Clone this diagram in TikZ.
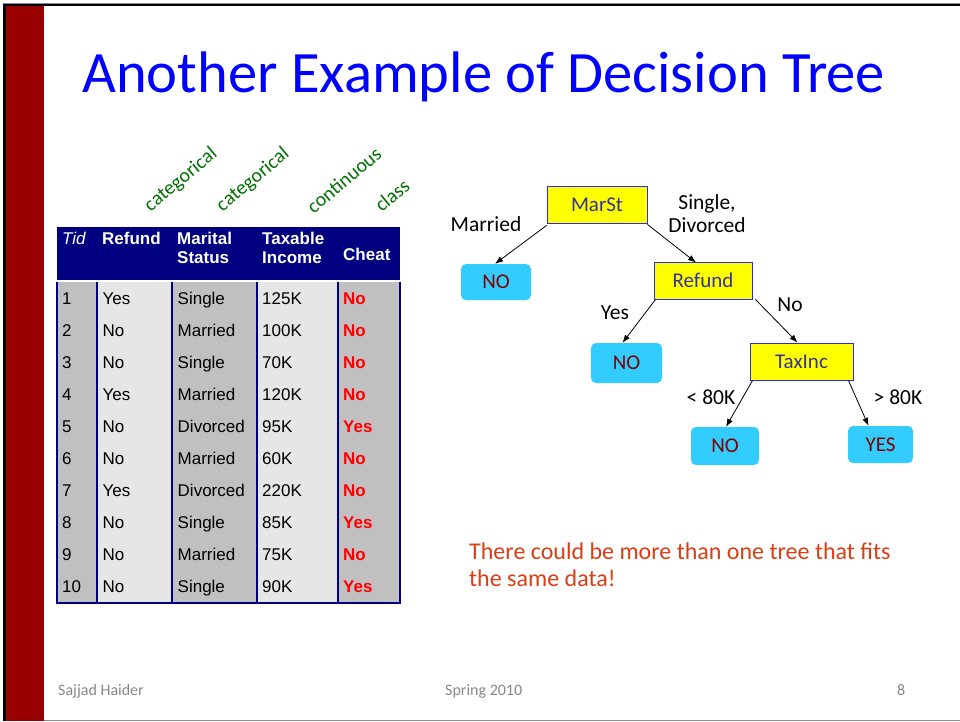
\documentclass[tikz,border=0pt]{standalone}
\usepackage{fontspec}
\setmainfont{Carlito}
\newfontfamily\arialfont{Liberation Sans}
\usetikzlibrary{arrows.meta}

\definecolor{slidered}{RGB}{153,0,0}
\definecolor{titleblue}{RGB}{0,0,255}
\definecolor{navy}{RGB}{0,0,128}
\definecolor{cellgray}{RGB}{192,192,192}
\definecolor{celllight}{RGB}{230,230,230}
\definecolor{typegreen}{RGB}{0,112,0}
\definecolor{testyellow}{RGB}{255,255,0}
\definecolor{testborder}{RGB}{40,40,255}
\definecolor{leafcyan}{RGB}{51,204,255}
\definecolor{leaftext}{RGB}{128,0,0}
\definecolor{testtext}{RGB}{51,51,153}
\definecolor{noteorange}{RGB}{218,62,20}
\definecolor{footgray}{RGB}{137,137,137}
\definecolor{cheatred}{RGB}{255,0,0}

\tikzset{
  testnode/.style={draw=testborder, fill=testyellow, line width=0.9pt, text=testtext,
    font=\fontsize{21}{25}\selectfont, inner sep=0pt},
  leafnode/.style={fill=leafcyan, rounded corners=5pt, text=leaftext,
    font=\fontsize{21}{25}\selectfont, inner sep=0pt},
  branch/.style={draw=black, line width=0.8pt, -{Latex[length=8pt,width=6pt]}},
  edgelabel/.style={font=\fontsize{21.5}{25}\selectfont, text=black, inner sep=0pt},
  typelabel/.style={rotate=40, text=typegreen, font=\fontsize{20}{22}\selectfont, inner sep=0pt},
  headtext/.style={anchor=base west, text=white, inner sep=0pt, font=\arialfont\bfseries\fontsize{17}{19}\selectfont},
  celltext/.style={anchor=base west, text=black, inner sep=0pt, font=\arialfont\fontsize{17}{19}\selectfont},
  classtext/.style={anchor=base west, text=cheatred, inner sep=0pt, font=\arialfont\bfseries\fontsize{17}{19}\selectfont},
  notetext/.style={anchor=base west, inner sep=0pt, text=noteorange, font=\fontsize{24}{28}\selectfont},
  footer/.style={anchor=base west, text=footgray, inner sep=0pt, font=\fontsize{16}{18}\selectfont},
  colrule/.style={draw=navy, line width=1.3pt}
}

\begin{document}
\begin{tikzpicture}[x=1pt,y=-1pt]
\useasboundingbox (0,0) rectangle (960,721);
\fill[white] (0,0) rectangle (960,721);

% slide frame and side bar
\fill[black!45] (3,2.5) rectangle (960,3.5);
\fill[black] (3,3.5) rectangle (960,6);
\fill[black] (3,3.5) rectangle (6,721);
\fill[slidered] (6,6) rectangle (44,721);
\fill[black!45] (44,719.5) rectangle (960,721);

% title
\node[anchor=base west, inner sep=0pt, text=titleblue, font=\fontsize{58.6}{70}\selectfont]
  (title) at (82,92) {Another Example of Decision Tree};

% attribute type labels
\node[typelabel] (type1) at (181,180) {categorical};
\node[typelabel] (type2) at (253,180) {categorical};
\node[typelabel] (type3) at (344,180) {continuous};
\node[typelabel] (type4) at (392,195) {class};

% table header
\fill[navy] (57,227) rectangle (400,280);
\node[headtext, font=\arialfont\itshape\fontsize{17}{19}\selectfont] (hTid) at (62,244) {Tid};
\node[headtext] (hRefund) at (102,244) {Refund};
\node[headtext] (hMar1) at (177,244) {Marital};
\node[headtext] (hMar2) at (177,263) {Status};
\node[headtext] (hTax1) at (262,244) {Taxable};
\node[headtext] (hTax2) at (262,263) {Income};
\node[headtext] (hCheat) at (343,260) {Cheat};

% table body columns
\fill[cellgray]  (57,281.5) rectangle (97,603);
\fill[celllight] (97,281.5) rectangle (172,603);
\fill[cellgray]  (172,281.5) rectangle (257,603);
\fill[celllight] (257,281.5) rectangle (338,603);
\fill[cellgray]  (338,281.5) rectangle (400,603);
\foreach \cx in {57,97,172,257,338,400} \draw[colrule] (\cx,281.5) -- (\cx,603);
\draw[colrule] (56.35,603) -- (400.65,603);

% table rows
\foreach [count=\i] \rf/\ms/\ti/\cl in {
  Yes/Single/125K/No, No/Married/100K/No, No/Single/70K/No, Yes/Married/120K/No,
  No/Divorced/95K/Yes, No/Married/60K/No, Yes/Divorced/220K/No, No/Single/85K/Yes,
  No/Married/75K/No, No/Single/90K/Yes} {
  \pgfmathsetmacro{\by}{304+32.04*(\i-1)}
  \node[celltext] (tid\i) at (62,\by) {\i};
  \node[celltext] (ref\i) at (102.5,\by) {\rf};
  \node[celltext] (mar\i) at (177.5,\by) {\ms};
  \node[celltext] (inc\i) at (262,\by) {\ti};
  \node[classtext] (cls\i) at (343,\by) {\cl};
}

% decision tree
\node[testnode, minimum width=100pt, minimum height=37pt] (marst) at (597,204.5) {MarSt};
\node[leafnode, minimum width=70pt, minimum height=36pt] (leafA) at (496,282) {NO};
\node[testnode, minimum width=98pt, minimum height=37pt] (refund) at (703,280.5) {Refund};
\node[leafnode, minimum width=71pt, minimum height=40pt] (leafB) at (626.5,363) {NO};
\node[testnode, minimum width=103pt, minimum height=37pt] (taxinc) at (801.5,361.5) {TaxInc};
\node[leafnode, minimum width=68pt, minimum height=38pt] (leafC) at (725,446) {NO};
\node[leafnode, minimum width=65pt, minimum height=37pt] (leafD) at (880.5,444.5) {YES};

\draw[branch] ([yshift=-2pt]marst.south west) -- ([xshift=-1pt]leafA.north);
\draw[branch] ([yshift=-1pt]marst.south east) -- ([xshift=-7pt,yshift=-1pt]refund.north);
\draw[branch] ([xshift=2pt]refund.south west) -- ([xshift=-4pt]leafB.north);
\draw[branch] ([xshift=3pt]refund.south east) -- ([xshift=-4pt]taxinc.north);
\draw[branch] ([xshift=3pt]taxinc.south west) -- ([xshift=1pt]leafC.north);
\draw[branch] ([xshift=-5pt]taxinc.south east) -- ([xshift=-12pt]leafD.north);

\node[edgelabel] (lblMarried) at (486,224) {Married};
\node[edgelabel, align=center] (lblSingle) at (707,214) {Single,\\[-2pt]Divorced};
\node[edgelabel] (lblYes) at (615,313) {Yes};
\node[edgelabel] (lblNo) at (790,305) {No};
\node[edgelabel] (lblLess) at (711,397) {< 80K};
\node[edgelabel] (lblMore) at (898,397) {> 80K};

% remark
\node[notetext] (note1) at (469,559) {There could be more than one tree that fits};
\node[notetext] (note2) at (469,586) {the same data!};

% footer
\node[footer] (author) at (58,695) {Sajjad Haider};
\node[footer] (term) at (445,695) {Spring 2010};
\node[footer] (page) at (897,695) {8};
\end{tikzpicture}
\end{document}
